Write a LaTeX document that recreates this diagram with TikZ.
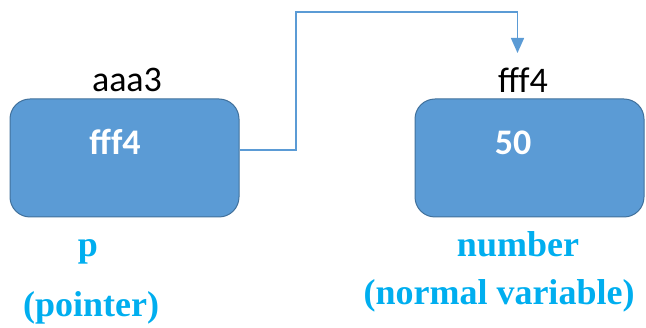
\documentclass[tikz,border=0pt]{standalone}
\usepackage{fontspec}
\setmainfont{Liberation Serif}
\newfontfamily\calibri{Carlito}
\usetikzlibrary{arrows.meta}
\definecolor{boxblue}{HTML}{5B9BD5}
\definecolor{boxedge}{HTML}{41719C}
\definecolor{lblue}{HTML}{00AEEF}
\begin{document}
\begin{tikzpicture}[x=1pt,y=-1pt,
 membox/.style={draw=boxedge, fill=boxblue, line width=1pt, rounded corners=20pt, minimum width=229pt, minimum height=118pt, inner sep=0pt},
 addr/.style={font=\calibri\fontsize{36}{40}\selectfont, anchor=base, inner sep=0pt},
 val/.style={font=\calibri\bfseries\fontsize{36}{40}\selectfont, text=white, anchor=base, inner sep=0pt},
 vname/.style={font=\bfseries\fontsize{36}{40}\selectfont, text=lblue, anchor=base, inner sep=0pt},
 conn/.style={draw=boxblue, line width=1.5pt, -{Triangle[width=13pt,length=15pt]}}]
\useasboundingbox (0,0) rectangle (646,328);
\node[membox] (lbox) at (124.5,158) {};
\node[membox] (rbox) at (529.5,158) {};
\node[val] (lval) at (115,155) {fff4};
\node[val] (rval) at (513,155) {50};
\node[addr] (laddr) at (127,92) {aaa3};
\node[addr] (raddr) at (523,93) {fff4};
\node[vname] (p) at (88,257) {p};
\node[vname] (pdesc) at (91,317) {(pointer)};
\node[vname] (num) at (518,257) {number};
\node[vname] (numdesc) at (499,305) {(normal variable)};
\coordinate (tip) at (517.5,53);
\draw[conn] (lbox.east |- 0,150) -- (296,150) |- (517.5,12) -- (tip);
\end{tikzpicture}
\end{document}
